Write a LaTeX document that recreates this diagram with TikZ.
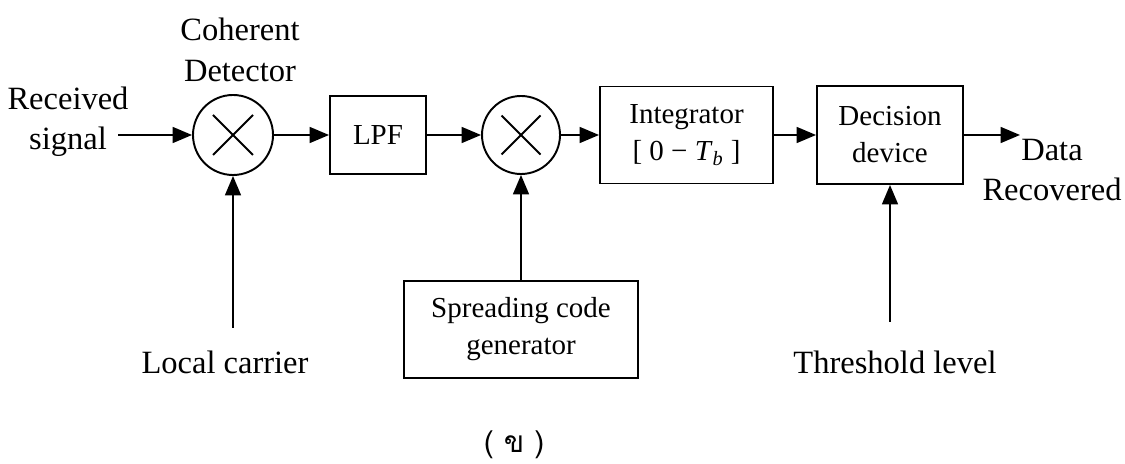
\documentclass[tikz,border=0pt]{standalone}
\usepackage{fontspec}
\setmainfont{Liberation Serif}
\newfontfamily\thaifont[Script=Thai]{Loma}
\usetikzlibrary{arrows.meta}

\begin{document}
\begin{tikzpicture}[
	line width=1.1pt,
	>={Triangle[length=11pt,width=9pt]},
	mixer/.style={shape=circle, draw, minimum size=1.6cm, inner sep=0pt},
	block/.style={shape=rectangle, draw, align=center, font=\fontsize{16.5}{21}\selectfont},
	lbl/.style={align=center, font=\fontsize{18.5}{23}\selectfont}
]
	\useasboundingbox (0,0) rectangle (22.5,-9.28);
	
	\node[mixer] (mix1) at (4.66,-2.70) {};
	\node[block, minimum width=1.92cm, minimum height=1.56cm] (lpf) at (7.56,-2.70) {LPF};
	\node[mixer, minimum size=1.56cm] (mix2) at (10.42,-2.70) {};
	\node[block, minimum width=3.46cm, minimum height=1.94cm] (int) at (13.73,-2.70) {Integrator\\{[ 0 − \textit{T}\textsubscript{\textit{b}} ]}};
	\node[block, minimum width=2.92cm, minimum height=1.96cm] (dec) at (17.80,-2.70) {Decision\\device};
	\node[block, minimum width=4.68cm, minimum height=1.94cm] (spread) at (10.42,-6.59) {Spreading code\\generator};
	
	\node[lbl] (rx) at (1.36,-2.44) {Received\\signal};
	\node[lbl] (coh) at (4.80,-1.00) {Coherent\\Detector};
	\node[lbl] (carrier) at (4.50,-7.24) {Local carrier};
	\node[lbl] (thr) at (17.90,-7.24) {Threshold level};
	\node[lbl] (data) at (21.04,-3.40) {Data\\Recovered};
	\node[lbl, font=\thaifont\fontsize{17}{21}\selectfont] (cap) at (10.28,-8.90) {( ข )};
	
	\coordinate (rxend) at (2.36,-2.70);
	\coordinate (carend) at (4.66,-6.56);
	\coordinate (thrend) at (17.80,-6.44);
	\coordinate (dataend) at (20.40,-2.70);
	
	% crosses inside the mixers
	\draw (mix1.center) +(-0.4,0.4) -- +(0.4,-0.4);
	\draw (mix1.center) +(-0.4,-0.4) -- +(0.4,0.4);
	\draw (mix2.center) +(-0.39,0.39) -- +(0.39,-0.39);
	\draw (mix2.center) +(-0.39,-0.39) -- +(0.39,0.39);
	
	\path [->] (rxend) edge (mix1);
	\path [->] (mix1) edge (lpf);
	\path [->] (lpf) edge (mix2);
	\path [->] (mix2) edge (int);
	\path [->] (int) edge (dec);
	\path [->] (dec) edge (dataend);
	\path [->] (carend) edge (mix1);
	\path [->] (spread) edge (mix2);
	\path [->] (thrend) edge (dec);
\end{tikzpicture}
\end{document}
